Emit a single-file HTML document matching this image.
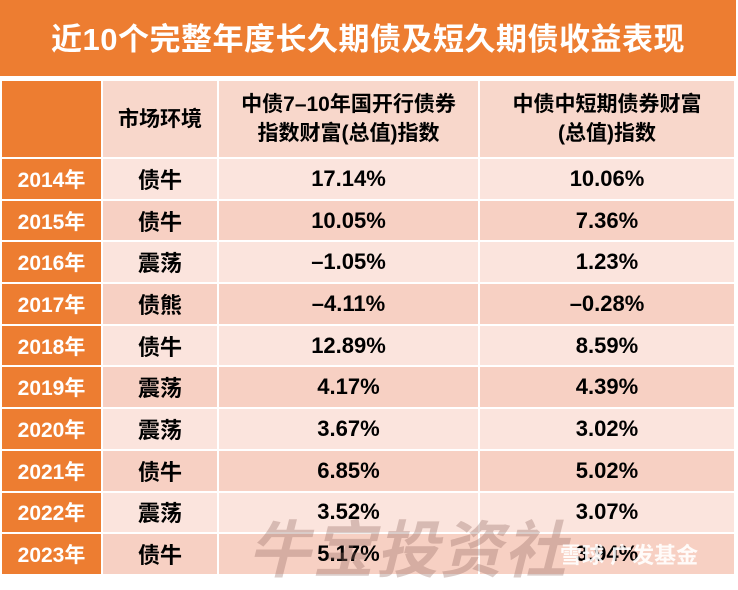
<!DOCTYPE html>
<html><head><meta charset="utf-8"><style>
body{margin:0;width:738px;height:582px;background:#fff;overflow:hidden;font-family:"Liberation Sans","Noto Sans CJK SC",sans-serif;font-weight:bold;position:relative}
.title{position:absolute;left:0;top:0;width:736px;height:76px;background:#ED7D31;color:#fff;font-size:31px;line-height:80px;text-align:center;letter-spacing:0.5px}
table{position:absolute;left:0;top:79px;border-collapse:collapse;width:736px;table-layout:fixed}
td{border:2px solid #fff;text-align:center;padding:0;font-size:22px;color:#000}
td.y{background:#ED7D31;color:#fff;font-size:21px}
tr.h{height:78px}
tr.h td{background:#F8D7CB;line-height:29px;font-size:21px}
tr.r{height:41.7px}
tr.a td{background:#FBE4DD}
tr.b td{background:#F7D0C3}
tr td.y{background:#ED7D31}
.wm{position:absolute;left:248px;top:500px;font-size:62px;color:rgba(150,110,100,0.35);font-style:italic;letter-spacing:2px}
.xq{position:absolute;left:560px;top:538px;font-size:22px;color:rgba(255,255,255,0.9)}
</style></head><body>
<div class="title">近10个完整年度长久期债及短久期债收益表现</div>
<table>
<colgroup><col style="width:101px"><col style="width:116px"><col style="width:261px"><col></colgroup>
<tr class="h"><td class="y"></td><td>市场环境</td><td>中债7–10年国开行债券<br>指数财富(总值)指数</td><td>中债中短期债券财富<br>(总值)指数</td></tr>
<tr class="r a"><td class="y">2014年</td><td>债牛</td><td>17.14%</td><td>10.06%</td></tr>
<tr class="r b"><td class="y">2015年</td><td>债牛</td><td>10.05%</td><td>7.36%</td></tr>
<tr class="r a"><td class="y">2016年</td><td>震荡</td><td>–1.05%</td><td>1.23%</td></tr>
<tr class="r b"><td class="y">2017年</td><td>债熊</td><td>–4.11%</td><td>–0.28%</td></tr>
<tr class="r a"><td class="y">2018年</td><td>债牛</td><td>12.89%</td><td>8.59%</td></tr>
<tr class="r b"><td class="y">2019年</td><td>震荡</td><td>4.17%</td><td>4.39%</td></tr>
<tr class="r a"><td class="y">2020年</td><td>震荡</td><td>3.67%</td><td>3.02%</td></tr>
<tr class="r b"><td class="y">2021年</td><td>债牛</td><td>6.85%</td><td>5.02%</td></tr>
<tr class="r a"><td class="y">2022年</td><td>震荡</td><td>3.52%</td><td>3.07%</td></tr>
<tr class="r b"><td class="y">2023年</td><td>债牛</td><td>5.17%</td><td>3.94%</td></tr>
</table>
<div class="wm">牛宝投资社</div>
<div class="xq">雪球 广发基金</div>
</body></html>
